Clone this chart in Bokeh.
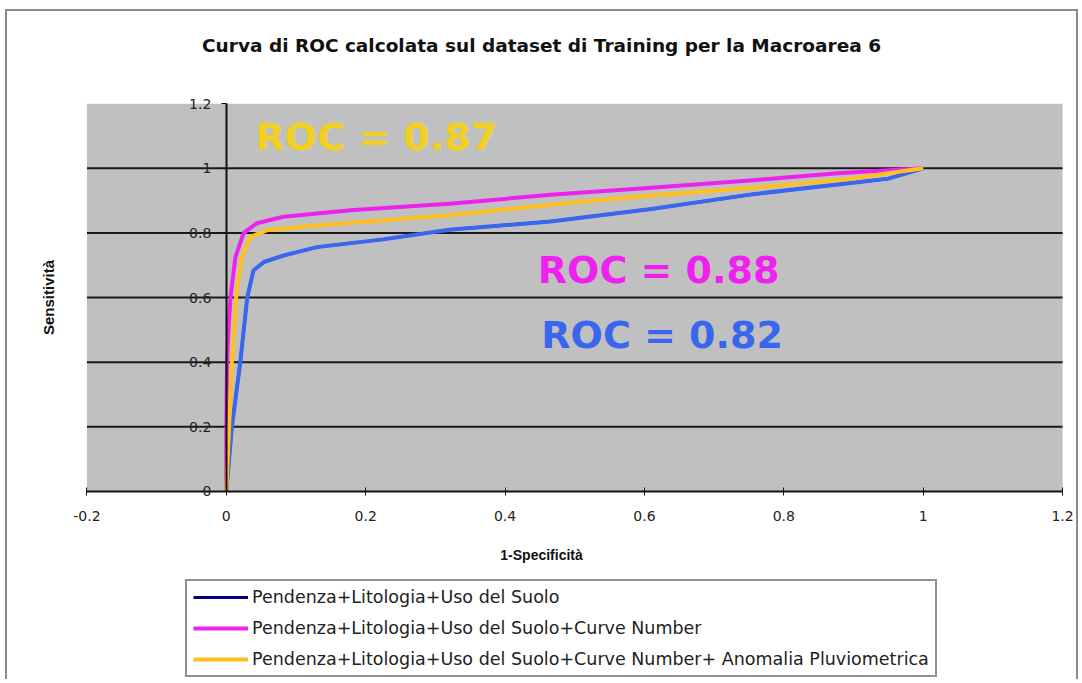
import math
from bokeh.plotting import figure
from bokeh.models import (Range1d, FixedTicker, NumeralTickFormatter, Label,
                          Legend, LegendItem)
from bokeh.embed import file_html
from bokeh.resources import INLINE

# ---------------- data ----------------
title_text = "Curva di ROC calcolata sul dataset di Training per la Macroarea 6"
x_label = "1-Specificità"
y_label = "Sensitività"

series_names = [
    "Pendenza+Litologia+Uso del Suolo",
    "Pendenza+Litologia+Uso del Suolo+Curve Number",
    "Pendenza+Litologia+Uso del Suolo+Curve Number+ Anomalia Pluviometrica",
]

blue_fpr = [0.0, 0.003, 0.008, 0.014, 0.020, 0.025, 0.030, 0.039, 0.054, 0.082, 0.13, 0.225, 0.32, 0.465, 0.61, 0.756, 0.89, 0.95, 1.0]
blue_tpr = [0.0, 0.074, 0.20, 0.30, 0.40, 0.50, 0.60, 0.684, 0.71, 0.73, 0.756, 0.78, 0.81, 0.835, 0.874, 0.92, 0.953, 0.968, 1.0]

magenta_fpr = [0.0, 0.0, 0.001, 0.003, 0.006, 0.013, 0.025, 0.044, 0.082, 0.178, 0.32, 0.465, 0.61, 0.756, 0.877, 1.0]
magenta_tpr = [0.0, 0.2, 0.4, 0.5, 0.60, 0.725, 0.80, 0.83, 0.85, 0.87, 0.89, 0.918, 0.94, 0.963, 0.985, 1.0]

yellow_fpr = [0.0, 0.004, 0.008, 0.011, 0.014, 0.022, 0.034, 0.058, 0.13, 0.32, 0.465, 0.61, 0.756, 0.89, 1.0]
yellow_tpr = [0.0, 0.2, 0.4, 0.5, 0.60, 0.725, 0.787, 0.808, 0.823, 0.855, 0.887, 0.916, 0.94, 0.966, 1.0]

roc_labels = ["ROC = 0.82", "ROC = 0.88", "ROC = 0.87"]

x_ticks = [-0.2, 0, 0.2, 0.4, 0.6, 0.8, 1, 1.2]
y_ticks = [0, 0.2, 0.4, 0.6, 0.8, 1, 1.2]
y_grid = [0.2, 0.4, 0.6, 0.8, 1]

# ---------------- figure ----------------
# the frame fills the whole canvas; the grey plot area is drawn from the tick limits
p = figure(width=1073, height=670, output_backend="svg", toolbar_location=None,
           x_range=Range1d(-0.3140, 1.2257), y_range=Range1d(-0.5884, 1.4853),
           min_border=0, background_fill_color="white", border_fill_color="white",
           styles={"border-left": "2px solid #8a8a8a", "border-top": "2px solid #8a8a8a",
                   "border-right": "2px solid #8a8a8a",
                   "margin-left": "5px", "margin-top": "9px"})
p.outline_line_color = None

# grey plot area and horizontal grid lines
p.quad(left=x_ticks[0], right=x_ticks[-1], bottom=y_ticks[0], top=y_ticks[-1],
       fill_color="#C0C0C0", line_color=None)
p.segment(x0=[x_ticks[0]] * len(y_grid), x1=[x_ticks[-1]] * len(y_grid),
          y0=y_grid, y1=y_grid, line_color="#1a1a1a", line_width=2)
p.xgrid.visible = False
p.ygrid.visible = False

# axes crossing at the origin
p.xaxis.fixed_location = 0
p.yaxis.fixed_location = 0
p.xaxis.bounds = (x_ticks[0], x_ticks[-1])
p.yaxis.bounds = (y_ticks[0], y_ticks[-1])
p.xaxis.ticker = FixedTicker(ticks=x_ticks)
p.yaxis.ticker = FixedTicker(ticks=y_ticks)
p.xaxis.formatter = NumeralTickFormatter(format="0.[0]")
p.yaxis.formatter = NumeralTickFormatter(format="0.[0]")
for ax in (p.xaxis, p.yaxis):
    ax.minor_tick_line_color = None
    ax.major_label_text_font = "DejaVu Sans"
    ax.major_label_text_font_size = "14px"
    ax.major_label_text_color = "#222222"
    ax.axis_line_color = "#111111"
    ax.major_tick_line_color = "#111111"
    ax.axis_line_width = 2
p.xaxis.major_tick_in = 4
p.xaxis.major_tick_out = 4
p.xaxis.major_label_standoff = 16
p.yaxis.major_tick_in = 0
p.yaxis.major_tick_out = 5
p.yaxis.major_label_standoff = 10

# titles
p.add_layout(Label(x=0.4523, y=1.38, text=title_text, text_font="DejaVu Sans",
                   text_font_size="18.5px", text_font_style="bold", text_color="#111111",
                   text_align="center", text_baseline="middle"))
p.add_layout(Label(x=0.4523, y=-0.198, text=x_label, text_font="Liberation Sans",
                   text_font_size="14px", text_font_style="bold", text_color="#111111",
                   text_align="center", text_baseline="middle"))
p.add_layout(Label(x=-0.2551, y=0.600, text=y_label, text_font="Liberation Sans",
                   text_font_size="15px", text_font_style="bold", text_color="#111111",
                   text_align="center", text_baseline="middle", angle=math.pi / 2))

# curves (legend swatch for the first series is navy, drawn under the blue line)
r_navy = p.line(blue_fpr, blue_tpr, line_color="#000080", line_width=3)
p.line(blue_fpr, blue_tpr, line_color="#3A66F0", line_width=4, line_join="round")
r_mag = p.line(magenta_fpr, magenta_tpr, line_color="#EE22EE", line_width=4, line_join="round")
r_yel = p.line(yellow_fpr, yellow_tpr, line_color="#FFC020", line_width=4, line_join="round")

# ROC annotations
lab_font = "DejaVu Sans"
p.add_layout(Label(x=0.042, y=1.096, text=roc_labels[2], text_color="#F2D020",
                   text_font=lab_font, text_font_size="38px", text_font_style="bold",
                   text_baseline="middle", text_align="left"))
p.add_layout(Label(x=0.447, y=0.684, text=roc_labels[1], text_color="#F020F0",
                   text_font=lab_font, text_font_size="38px", text_font_style="bold",
                   text_baseline="middle", text_align="left"))
p.add_layout(Label(x=0.452, y=0.483, text=roc_labels[0], text_color="#3A66EE",
                   text_font=lab_font, text_font_size="38px", text_font_style="bold",
                   text_baseline="middle", text_align="left"))

# legend
legend = Legend(items=[LegendItem(label=series_names[0], renderers=[r_navy]),
                       LegendItem(label=series_names[1], renderers=[r_mag]),
                       LegendItem(label=series_names[2], renderers=[r_yel])],
                location=(178, 4), orientation="vertical",
                label_text_font="DejaVu Sans", label_text_font_size="17.5px",
                label_text_color="#222222", label_height=20, glyph_height=20,
                glyph_width=55, label_standoff=4, spacing=11, padding=6, margin=0,
                border_line_color="#222222", border_line_width=2,
                background_fill_color="white", background_fill_alpha=1.0)
p.add_layout(legend)

open("out.html", "w").write(file_html(p, INLINE))
